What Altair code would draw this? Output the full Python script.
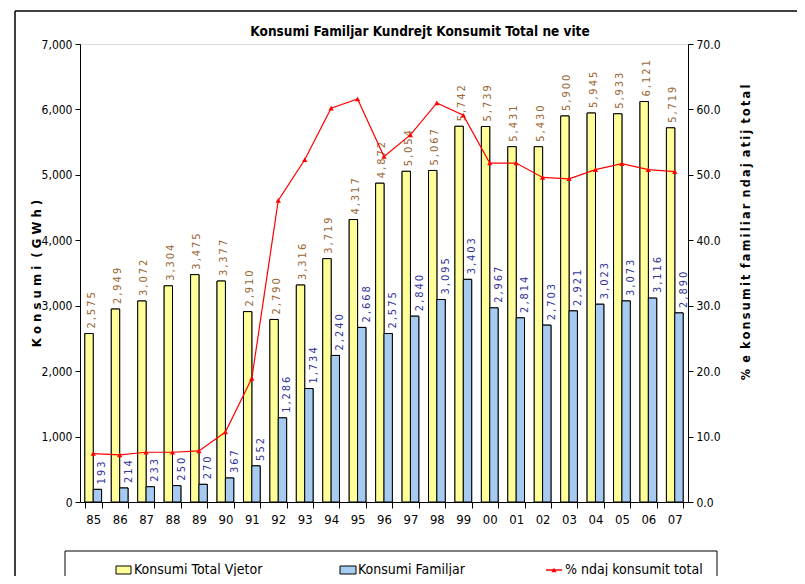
import altair as alt
import pandas as pd

years = ["85", "86", "87", "88", "89", "90", "91", "92", "93", "94", "95", "96",
         "97", "98", "99", "00", "01", "02", "03", "04", "05", "06", "07"]
total = [2575, 2949, 3072, 3304, 3475, 3377, 2910, 2790, 3316, 3719, 4317, 4872,
         5054, 5067, 5742, 5739, 5431, 5430, 5900, 5945, 5933, 6121, 5719]
familiar = [193, 214, 233, 250, 270, 367, 552, 1286, 1734, 2240, 2668, 2575,
            2840, 3095, 3403, 2967, 2814, 2703, 2921, 3023, 3073, 3116, 2890]
pct = [7.4, 7.2, 7.6, 7.6, 7.8, 10.7, 18.9, 46.1, 52.3, 60.2, 61.6, 52.8,
       56.1, 61.0, 59.1, 51.8, 51.8, 49.6, 49.4, 50.8, 51.7, 50.8, 50.5]

S_TOTAL = "Konsumi Total Vjetor"
S_FAM = "Konsumi Familjar"
S_PCT = "% ndaj konsumit total"
TITLE = "Konsumi Familjar Kundrejt Konsumit Total ne vite"
LTITLE_WORDS = ["Konsumi", "(GWh)"]
RTITLE_WORDS = ["%", "e", "konsumit", "familiar", "ndaj", "atij", "total"]
series_order = [S_TOTAL, S_FAM]

FONT = "Liberation Sans Narrow, Arial Narrow, DejaVu Sans Condensed, sans-serif"


def spaced(words, sep, gap):
    return gap.join(sep.join(w) for w in words)


ltitle = spaced(LTITLE_WORDS, " ", "\u00a0 ")
rtitle = spaced(RTITLE_WORDS, "\u2009", "\u00a0\u2009")

rows = []
for i, y in enumerate(years):
    for s, v in ((S_TOTAL, total[i]), (S_FAM, familiar[i])):
        rows.append({"year": y, "series": s, "value": v,
                     "label": "\u2009".join(f"{v:,}")})
bars_df = pd.DataFrame(rows)
pct_df = pd.DataFrame({"year": years, "pct": pct})

x_enc = alt.X("year:N", sort=years, title=None,
              scale=alt.Scale(domain=years, paddingInner=0.368, paddingOuter=0.184),
              axis=alt.Axis(tickBand="extent", labelAngle=0, domainColor="black",
                            tickColor="black", tickSize=6, labelPadding=5,
                            labelFont=FONT, labelFontSize=13, labelColor="black",
                            domainWidth=1, tickWidth=1))
xoff = alt.XOffset("series:N", sort=series_order,
                   scale=alt.Scale(domain=series_order, paddingInner=0, paddingOuter=0))
y_left = alt.Y("value:Q", scale=alt.Scale(domain=[0, 7000]),
               axis=alt.Axis(values=list(range(0, 7001, 1000)), format=",.0f",
                             grid=False, domainColor="black", tickColor="black",
                             tickSize=5, labelPadding=3, labelFont=FONT,
                             labelFontSize=12, labelColor="black",
                             title=ltitle, titleFont=FONT,
                             titleFontSize=13, titleFontWeight="bold",
                             titleColor="black", titleAngle=270, titleX=-44,
                             titleY=229, titleAlign="center",
                             titleBaseline="middle"))

base = alt.Chart(bars_df)
shadow = base.mark_bar(color="#8a8a8a", xOffset=1.5, yOffset=1.5, clip=True).encode(
    x=x_enc, xOffset=xoff, y=y_left)
bars = base.mark_bar(stroke="black", strokeWidth=1).encode(
    x=x_enc, xOffset=xoff, y=y_left,
    fill=alt.condition(alt.datum.series == S_TOTAL, alt.value("#FFFF99"),
                       alt.value("#A6CAF0")))
lab_kw = dict(angle=270, align="left", baseline="middle", dx=5, font=FONT, fontSize=11)
labels_t = base.transform_filter(alt.datum.series == S_TOTAL).mark_text(
    dy=2.5, color="#996633", **lab_kw).encode(
    x=x_enc, xOffset=xoff, y=y_left, text="label:N")
labels_f = base.transform_filter(alt.datum.series == S_FAM).mark_text(
    dy=5, color="#333399", **lab_kw).encode(
    x=x_enc, xOffset=xoff, y=y_left, text="label:N")
left = alt.layer(bars, shadow, bars, labels_t, labels_f)

y_right = alt.Y("pct:Q", scale=alt.Scale(domain=[0, 70]),
                axis=alt.Axis(orient="right", values=list(range(0, 71, 10)),
                              format=".1f", grid=False, domainColor="black",
                              tickColor="black", tickSize=5, labelPadding=3,
                              labelFont=FONT, labelFontSize=12, labelColor="black",
                              title=rtitle, titleFont=FONT, titleFontSize=12.5,
                              titleFontWeight="bold", titleColor="black",
                              titleAngle=270, titleX=57, titleY=188,
                              titleAlign="center", titleBaseline="middle"))
line = alt.Chart(pct_df).mark_line(color="red", strokeWidth=1.2).encode(
    x=x_enc, y=y_right)
pts = alt.Chart(pct_df).mark_point(shape="triangle-up", filled=True, size=28,
                                   color="red", opacity=1).encode(
    x=x_enc, y=y_right)
right = alt.layer(line, pts)

one = pd.DataFrame({"k": [0]})
c1 = alt.Chart(one)
title_txt = c1.mark_text(align="center", baseline="alphabetic", font=FONT,
                         fontSize=13.5, fontWeight="bold", color="black").encode(
    x=alt.value(340), y=alt.value(-8), text=alt.value(TITLE))
border_top = c1.mark_rule(color="black", strokeWidth=1.5).encode(
    x=alt.value(-65), x2=alt.value(740), y=alt.value(-33))
border_left = c1.mark_rule(color="black", strokeWidth=1.5).encode(
    x=alt.value(-65), y=alt.value(-33), y2=alt.value(560))
leg_box = c1.mark_rect(fill="white", stroke="black", strokeWidth=1).encode(
    x=alt.value(-15), x2=alt.value(637), y=alt.value(507), y2=alt.value(600))
sw1 = c1.mark_rect(fill="#FFFF99", stroke="black", strokeWidth=1).encode(
    x=alt.value(36), x2=alt.value(51), y=alt.value(522), y2=alt.value(530))
sw2 = c1.mark_rect(fill="#A6CAF0", stroke="black", strokeWidth=1).encode(
    x=alt.value(260), x2=alt.value(276), y=alt.value(522), y2=alt.value(530))
sw3 = c1.mark_rule(color="red", strokeWidth=1.5).encode(
    x=alt.value(466), x2=alt.value(482), y=alt.value(526))
sw3p = c1.mark_point(shape="triangle-up", filled=True, size=28, color="red",
                     opacity=1).encode(x=alt.value(474), y=alt.value(526))
t_kw = dict(align="left", baseline="middle", font=FONT, fontSize=14, color="black")
lt1 = c1.mark_text(**t_kw).encode(x=alt.value(54), y=alt.value(526), text=alt.value(S_TOTAL))
lt2 = c1.mark_text(**t_kw).encode(x=alt.value(278), y=alt.value(526), text=alt.value(S_FAM))
lt3 = c1.mark_text(**t_kw).encode(x=alt.value(485), y=alt.value(526), text=alt.value(S_PCT))
deco = alt.layer(title_txt, leg_box, sw1, sw2, sw3, sw3p, lt1, lt2, lt3,
                 border_top, border_left)

chart = alt.layer(left, right, deco).resolve_scale(y="independent").properties(
    width=608, height=458,
    autosize=alt.AutoSizeParams(type="none"),
    padding={"left": 72, "top": 36, "right": 109, "bottom": 74},
).configure_view(strokeWidth=0, stroke="transparent").configure(background="white")

chart.save("out.html", embed_options={"renderer": "svg", "actions": False})
